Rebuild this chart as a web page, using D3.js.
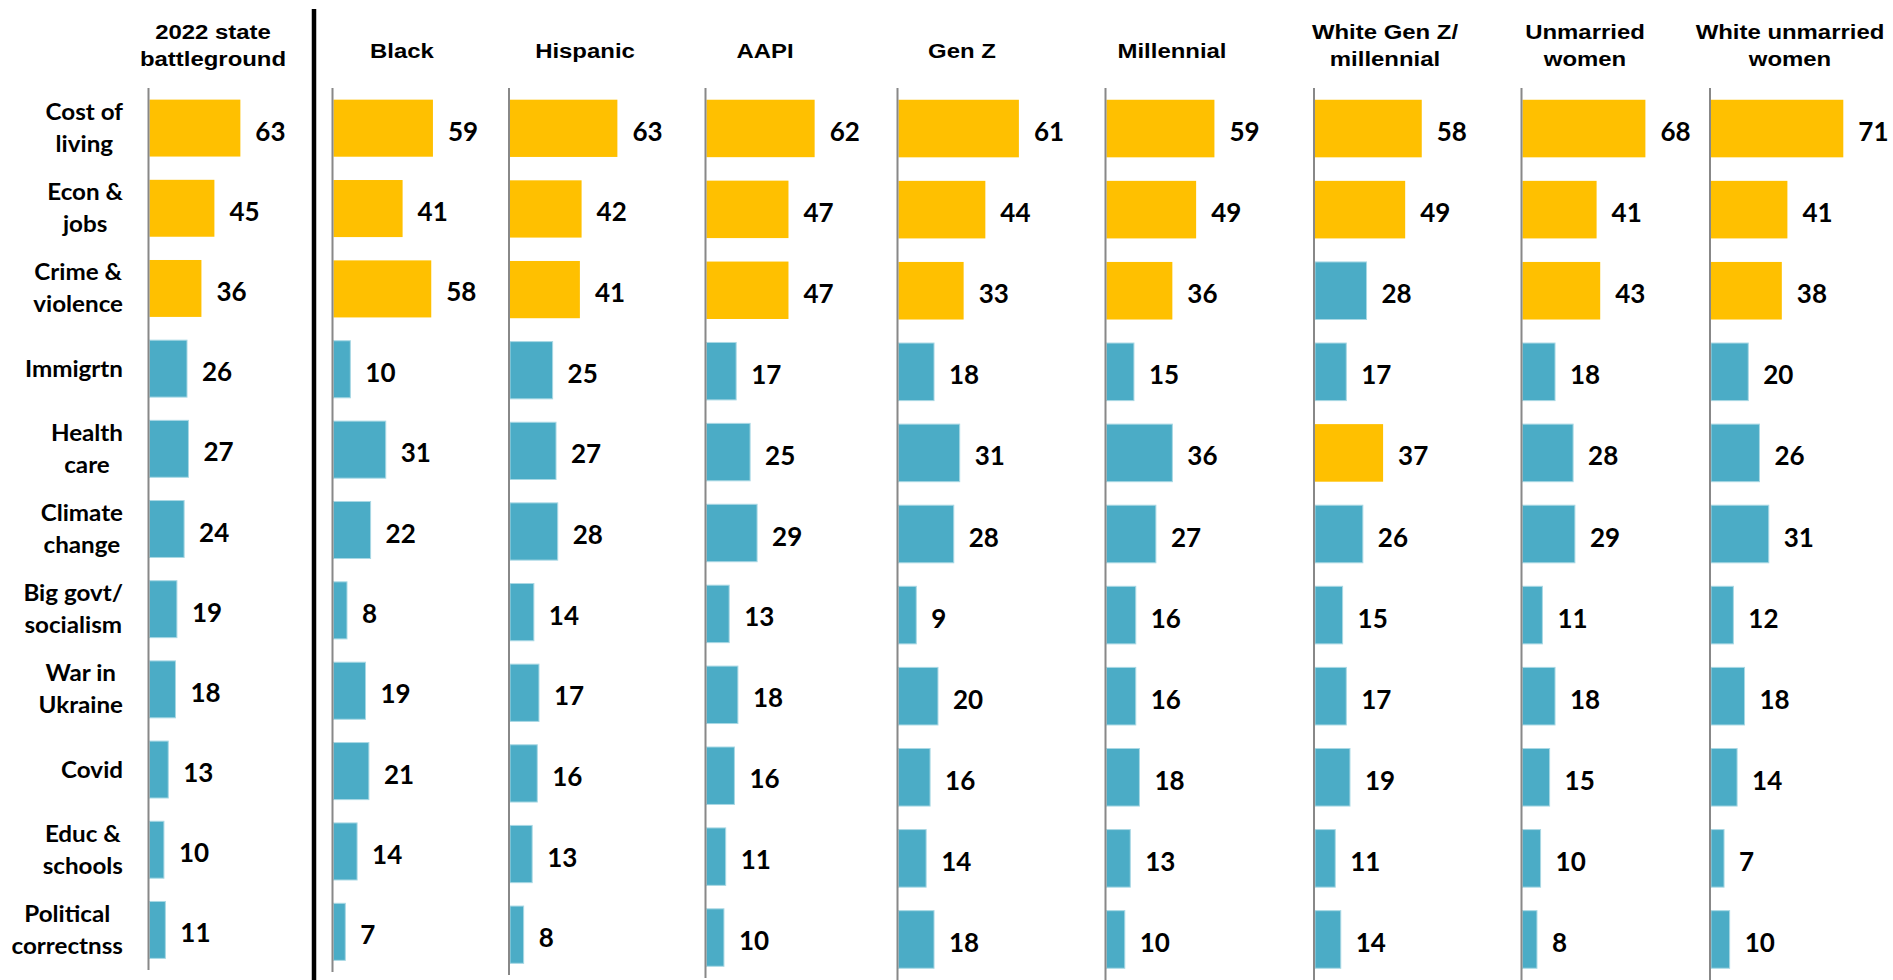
<!DOCTYPE html>
<html>
<head>
<meta charset="utf-8">
<script src="https://cdn.jsdelivr.net/npm/d3@7/dist/d3.min.js"></script>
<style>
  html, body { margin: 0; padding: 0; background: #fff; }
  svg { display: block; }
</style>
</head>
<body>
<svg id="chart" width="1893" height="980"></svg>
<script>
// ---------------- DATA ----------------
const categories = [
  "Cost of|living", "Econ &|jobs", "Crime &|violence", "Immigrtn", "Health|care",
  "Climate|change", "Big govt/|socialism", "War in|Ukraine", "Covid", "Educ &|schools",
  "Political|correctnss"
];
const groups = [
  "2022 state|battleground", "Black", "Hispanic", "AAPI", "Gen Z", "Millennial",
  "White Gen Z/|millennial", "Unmarried|women", "White unmarried|women"
];
const battleground = [63, 45, 36, 26, 27, 24, 19, 18, 13, 10, 11];
const black        = [59, 41, 58, 10, 31, 22, 8, 19, 21, 14, 7];
const hispanic     = [63, 42, 41, 25, 27, 28, 14, 17, 16, 13, 8];
const aapi         = [62, 47, 47, 17, 25, 29, 13, 18, 16, 11, 10];
const genZ         = [61, 44, 33, 18, 31, 28, 9, 20, 16, 14, 18];
const millennial   = [59, 49, 36, 15, 36, 27, 16, 16, 18, 13, 10];
const whiteGenZMil = [58, 49, 28, 17, 37, 26, 15, 17, 19, 11, 14];
const unmarriedW   = [68, 41, 43, 18, 28, 29, 11, 18, 15, 10, 8];
const whiteUnmarW  = [71, 41, 38, 20, 26, 31, 12, 18, 14, 7, 10];
const seriesValues = [battleground, black, hispanic, aapi, genZ, millennial, whiteGenZMil, unmarriedW, whiteUnmarW];
// indices of the top-3 (highlighted) issues in each group
const highlighted = [
  [0, 1, 2], [0, 1, 2], [0, 1, 2], [0, 1, 2], [0, 1, 2], [0, 1, 2], [0, 1, 4], [0, 1, 2], [0, 1, 2]
];
// value-axis maximum of each small chart
const axisMax = [104, 89, 88, 86, 76, 82, 81.5, 83, 80.5];

// ---------------- LAYOUT / STYLE ----------------
const panelAxisX  = [148.5, 332.5, 509, 705.5, 897.5, 1105.5, 1314, 1521.5, 1710];
const panelTitleX = [213, 402, 585, 765, 962, 1172, 1385, 1585, 1790];
const panelBottom = [970, 972, 975, 978, 980, 980, 980, 980, 980];
const plotTop = 88;
const plotWidth = 150;
const GOLD = "#FFC000", BLUE = "#4BACC6";

const svg = d3.select("#chart");
svg.append("rect").attr("width", 1893).attr("height", 980).attr("fill", "#fff");

// thick separator
svg.append("line")
  .attr("x1", 314).attr("x2", 314).attr("y1", 9).attr("y2", 980)
  .attr("stroke", "#000").attr("stroke-width", 4.5);

groups.forEach((g, gi) => {
  const vals = seriesValues[gi];
  const ax = panelAxisX[gi];
  const x = d3.scaleLinear().domain([0, axisMax[gi]]).range([ax + 1, ax + 1 + plotWidth]);
  const y = d3.scaleBand().domain(d3.range(categories.length))
    .range([plotTop, panelBottom[gi]]).paddingInner(0.29).paddingOuter(0.145);
  const panel = svg.append("g").attr("class", "panel");

  // bars
  panel.selectAll("rect.bar").data(vals).join("rect")
    .attr("class", "bar")
    .attr("x", x(0))
    .attr("y", (d, i) => y(i))
    .attr("width", d => x(d) - x(0))
    .attr("height", y.bandwidth())
    .attr("fill", (d, i) => highlighted[gi].includes(i) ? GOLD : BLUE)
    .attr("stroke", (d, i) => highlighted[gi].includes(i) ? "none" : "#a9d8e4")
    .attr("stroke-width", 1);

  // category axis line
  panel.append("line")
    .attr("x1", ax).attr("x2", ax).attr("y1", plotTop).attr("y2", panelBottom[gi])
    .attr("stroke", "#888").attr("stroke-width", 2);

  // value labels
  panel.selectAll("text.val").data(vals).join("text")
    .attr("class", "val")
    .attr("x", d => x(d) + 15)
    .attr("y", (d, i) => y(i) + y.bandwidth() / 2 + 12.5)
    .attr("font-family", "Lato, 'Open Sans', sans-serif")
    .attr("font-weight", 700)
    .attr("font-size", 26)
    .attr("fill", "#000")
    .text(d => d);

  // title
  const lines = g.split("|");
  const tg = panel.append("g");
  lines.forEach((ln, li) => {
    const base = lines.length === 1 ? 57.5 : (li === 0 ? 38.5 : 66);
    tg.append("text")
      .attr("transform", `translate(${panelTitleX[gi]},${base}) scale(1.14,1)`)
      .attr("text-anchor", "middle")
      .attr("font-family", "'Liberation Sans', Arial, sans-serif")
      .attr("font-weight", 700)
      .attr("font-size", 21)
      .attr("fill", "#000")
      .text(ln);
  });

  // category labels (first panel only)
  if (gi === 0) {
    const labelRight = 123;
    const sx = 1.1;
    categories.forEach((c, ci) => {
      const cy = y(ci) + y.bandwidth() / 2;
      const cl = c.split("|");
      const lg = svg.append("g").attr("transform", `translate(${labelRight},${cy}) scale(${sx},1)`);
      const texts = cl.map((ln, li) => {
        const base = cl.length === 1 ? 8 : (li === 0 ? -8 : 24);
        return lg.append("text")
          .attr("y", base)
          .attr("text-anchor", "middle")
          .attr("font-family", "Lato, 'Open Sans', sans-serif")
          .attr("font-weight", 700)
          .attr("font-size", 22)
          .attr("fill", "#000")
          .text(ln);
      });
      const maxW = d3.max(texts, t => t.node().getComputedTextLength());
      texts.forEach(t => t.attr("x", -maxW / 2));
    });
  }
});
</script>
</body>
</html>
